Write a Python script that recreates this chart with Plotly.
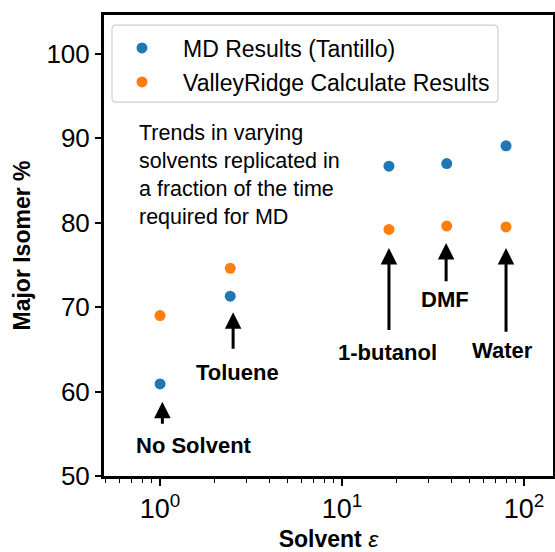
import plotly.graph_objects as go
import numpy as np

# ---- data ----
solvents = ["No Solvent", "Toluene", "1-butanol", "DMF", "Water"]
epsilon = [1.0, 2.43, 18.1, 37.6, 79.6]
md_results = [60.9, 71.3, 86.7, 87.0, 89.1]
vr_results = [69.0, 74.6, 79.2, 79.6, 79.5]

# annotation layout (label position and arrow tail/tip in data units)
label_x = [1.54, 2.65, 17.8, 36.8, 75.7]
label_y = [53.6, 62.3, 64.6, 70.85, 64.9]
arrow_x = [1.03, 2.52, 18.1, 37.3, 79.6]
arrow_tail = [56.0, 64.9, 67.1, 72.9, 66.9]
arrow_tip = [58.8, 69.4, 77.0, 77.6, 77.0]

tick_vals = [1, 10, 100]
tick_text = ["10<sup>0</sup>", "10<sup>1</sup>", "10<sup>2</sup>"]
y_ticks = [50, 60, 70, 80, 90, 100]

FONT = "Liberation Sans, Arial, sans-serif"

fig = go.Figure()
fig.add_trace(go.Scatter(x=epsilon, y=md_results, mode="markers",
                         name="MD Results (Tantillo)", legendgroup="a",
                         marker=dict(color="#1f77b4", size=11)))
fig.add_trace(go.Scatter(x=epsilon, y=vr_results, mode="markers",
                         name="ValleyRidge Calculate Results", legendgroup="b",
                         marker=dict(color="#ff7f0e", size=11)))

annotations = []
for name, lx, ly, axx, at, tip in zip(solvents, label_x, label_y, arrow_x, arrow_tail, arrow_tip):
    annotations.append(dict(x=np.log10(lx), y=ly, xref="x", yref="y", text="<b>%s</b>" % name,
                            showarrow=False, font=dict(family=FONT, size=22, color="black"),
                            xanchor="center", yanchor="middle"))
    annotations.append(dict(x=np.log10(axx), y=tip, ax=np.log10(axx), ay=at, xref="x", yref="y",
                            axref="x", ayref="y", text="", showarrow=True, arrowhead=2,
                            arrowsize=1.1, arrowwidth=3, arrowcolor="black", standoff=0,
                            startstandoff=0))

annotations.append(dict(x=np.log10(0.748), y=85.6, xref="x", yref="y",
                        text="Trends in varying<br>solvents replicated in<br>a fraction of the time<br>required for MD",
                        showarrow=False, align="left", xanchor="left", yanchor="middle",
                        font=dict(family=FONT, size=21.5, color="black")))

# rounded legend frame (paper coordinates)
x0, x1, y0, y1 = 0.0178, 0.8775, 0.811, 0.978
rx, ry = 0.009, 0.009
frame_path = (f"M{x0+rx},{y0} L{x1-rx},{y0} Q{x1},{y0} {x1},{y0+ry} "
              f"L{x1},{y1-ry} Q{x1},{y1} {x1-rx},{y1} L{x0+rx},{y1} Q{x0},{y1} {x0},{y1-ry} "
              f"L{x0},{y0+ry} Q{x0},{y0} {x0+rx},{y0} Z")

fig.update_layout(
    width=555, height=552,
    margin=dict(l=104, r=2, t=15, b=76),
    paper_bgcolor="white", plot_bgcolor="white",
    font=dict(family=FONT, color="black"),
    showlegend=True,
    legend=dict(x=-0.0067, y=0.975, xanchor="left", yanchor="top",
                traceorder="grouped", tracegroupgap=1, itemwidth=72,
                bgcolor="rgba(0,0,0,0)", borderwidth=0,
                font=dict(family=FONT, size=23, color="black")),
    shapes=[dict(type="path", path=frame_path, xref="paper", yref="paper",
                 fillcolor="rgba(255,255,255,0.8)", line=dict(color="#d0d0d0", width=1.2),
                 layer="below")],
    annotations=annotations,
)
fig.update_xaxes(type="log", range=[-0.308, 2.159], automargin=False,
                 tickvals=tick_vals, ticktext=tick_text,
                 tickfont=dict(family=FONT, size=27, color="black"),
                 ticks="outside", ticklen=7, tickwidth=1.5, tickcolor="black",
                 minor=dict(ticks="outside", ticklen=4, tickwidth=1, tickcolor="black", dtick="D1"),
                 showline=True, linewidth=3, linecolor="black", mirror=True,
                 showgrid=False, zeroline=False,
                 title=dict(text="<b>Solvent</b> <i>ε</i>", font=dict(family=FONT, size=23, color="black"),
                            standoff=11))
fig.update_yaxes(range=[50, 104.6], tickvals=y_ticks, automargin=False,
                 tickfont=dict(family=FONT, size=26, color="black"),
                 ticks="outside", ticklen=6, tickwidth=1.5, tickcolor="black",
                 showline=True, linewidth=3, linecolor="black", mirror=True,
                 showgrid=False, zeroline=False,
                 title=dict(text="<b>Major Isomer %</b>", font=dict(family=FONT, size=23, color="black"),
                            standoff=10))

fig.write_html("out.html")
